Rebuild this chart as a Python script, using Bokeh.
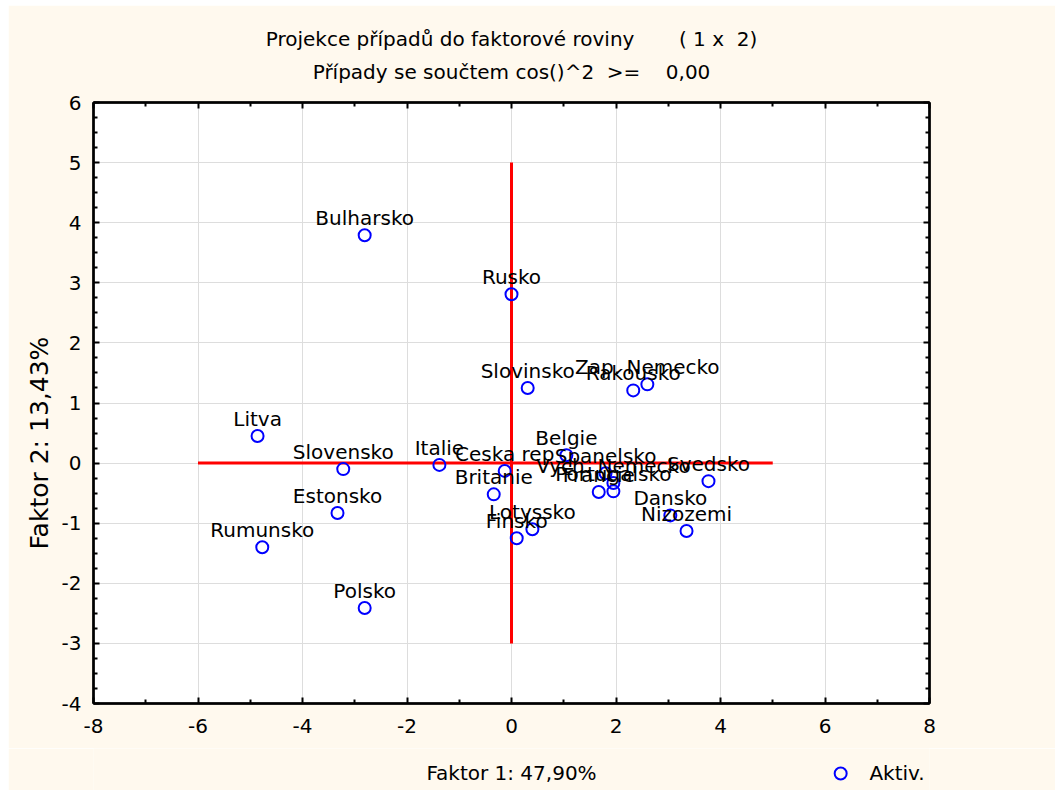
from bokeh.plotting import figure
from bokeh.layouts import column
from bokeh.models import Range1d, FixedTicker, LinearAxis, Title, ColumnDataSource
from bokeh.core.properties import value
from bokeh.embed import file_html
from bokeh.resources import INLINE

# ---- data ----
countries = ["Bulharsko", "Rusko", "Slovinsko", "Rakousko", "Zap. Nemecko", "Litva",
             "Slovensko", "Italie", "Ceska rep", "Belgie", "Britanie", "Spanelsko",
             "Vych. Nemecko", "Portugalsko", "Francie", "Svedsko", "Dansko", "Nizozemi",
             "Lotyssko", "Finsko", "Estonsko", "Rumunsko", "Polsko"]
factor1 = [-2.81, 0.00, 0.31, 2.33, 2.60, -4.86,
           -3.22, -1.38, -0.13, 1.05, -0.34, 1.80,
           1.95, 1.95, 1.67, 3.77, 3.04, 3.35,
           0.40, 0.10, -3.33, -4.77, -2.81]
factor2 = [3.79, 2.81, 1.25, 1.21, 1.31, 0.45,
           -0.10, -0.03, -0.13, 0.13, -0.52, -0.17,
           -0.33, -0.47, -0.48, -0.30, -0.87, -1.13,
           -1.10, -1.25, -0.83, -1.40, -2.41]

x_ticks = [-8, -6, -4, -2, 0, 2, 4, 6, 8]
x_tick_labels = ["-8", "-6", "-4", "-2", "0", "2", "4", "6", "8"]
x_minor = [-7, -5, -3, -1, 1, 3, 5, 7]
y_ticks = [-4, -3, -2, -1, 0, 1, 2, 3, 4, 5, 6]
y_tick_labels = ["-4", "-3", "-2", "-1", "0", "1", "2", "3", "4", "5", "6"]
y_minor = [v / 4 for v in range(-16, 25) if v % 4 != 0]

hline_x = [-6, 5]
hline_y = [0, 0]
vline_x = [0, 0]
vline_y = [-3, 5]

NB = "\u00a0"
title_1 = "Projekce případů do faktorové roviny " + NB * 6 + "( 1 x " + NB + "2)"
title_2 = "Případy se součtem cos()^2 " + NB + ">= " + NB * 3 + "0,00"
x_label = "Faktor 1: 47,90%"
y_label = "Faktor 2: 13,43%"
legend_label = "Aktiv."

FONT = "DejaVu Sans"
FS = "20px"
CREAM = "#FFF9EE"

p = figure(width=1047, height=743, x_range=Range1d(-8, 8), y_range=Range1d(-4, 6),
           output_backend="svg", toolbar_location=None, title=None,
           min_border_left=85, min_border_right=126, min_border_top=97, min_border_bottom=45,
           background_fill_color="white", border_fill_color=CREAM,
           outline_line_color="black", outline_line_width=2)
p.margin = (5, 0, 0, 8)

p.xgrid.ticker = x_ticks
p.ygrid.ticker = y_ticks
p.xgrid.grid_line_color = "#DDDDDD"
p.ygrid.grid_line_color = "#DDDDDD"


def style_axis(ax, ticks, minor, labels, show):
    ax.ticker = FixedTicker(ticks=ticks, minor_ticks=minor)
    ax.axis_line_width = 2.5
    ax.axis_line_color = "black"
    ax.major_tick_in = 6
    ax.major_tick_out = 0
    ax.minor_tick_in = 4
    ax.minor_tick_out = 0
    ax.major_tick_line_width = 2
    ax.minor_tick_line_width = 2
    ax.major_tick_line_color = "black"
    ax.minor_tick_line_color = "black"
    ax.major_label_text_font = FONT
    ax.major_label_text_color = "black"
    if show:
        ax.major_label_overrides = {t: l for t, l in zip(ticks, labels)}
        ax.major_label_text_font_size = FS
        ax.major_label_standoff = 12
    else:
        ax.major_label_overrides = {t: "" for t in ticks}
        ax.major_label_text_font_size = "0px"
        ax.major_label_standoff = 0


bottom = p.xaxis[0]
left = p.yaxis[0]
style_axis(bottom, x_ticks, x_minor, x_tick_labels, True)
style_axis(left, y_ticks, y_minor, y_tick_labels, True)
bottom.major_label_standoff = 15

top = LinearAxis()
style_axis(top, x_ticks, x_minor, x_tick_labels, False)
p.add_layout(top, "above")
right = LinearAxis()
style_axis(right, y_ticks, y_minor, y_tick_labels, False)
p.add_layout(right, "right")

p.add_layout(Title(text=title_2, align="center", text_font=FONT, text_font_size=FS,
                   text_font_style="normal", text_color="black", standoff=38), "above")
p.add_layout(Title(text=title_1, align="center", text_font=FONT, text_font_size=FS,
                   text_font_style="normal", text_color="black", standoff=-25), "above")

# y-axis title as a side-panel title, shifted toward the bottom like the reference
p.add_layout(Title(text=y_label, align="left", offset=154, text_font=FONT, text_font_size="25px",
                   text_font_style="normal", text_color="black", standoff=10), "left")

p.line(hline_x, hline_y, line_color="red", line_width=3)
p.line(vline_x, vline_y, line_color="red", line_width=3)

src = ColumnDataSource(dict(f1=factor1, f2=factor2, name=countries))
pts = p.scatter("f1", "f2", source=src, marker="circle", size=12, fill_color=None,
                line_color="blue", line_width=2)
p.text("f1", "f2", text="name", source=src, text_align="center", text_baseline="alphabetic",
       y_offset=-17, text_font=value(FONT), text_font_size=FS, text_color="black")

# ---- bottom strip: x-axis title and legend key on one row ----
# (its frame is aligned with the main plot's frame by the column layout, so it
#  shares the main x scale; the legend key sits at the right end of that row)
strip = figure(width=1047, height=42, x_range=Range1d(-8, 8), y_range=Range1d(0, 1),
               output_backend="svg", toolbar_location=None, title=None,
               x_axis_type=None, y_axis_type=None,
               min_border_left=0, min_border_right=0, min_border_top=0, min_border_bottom=0,
               background_fill_color=CREAM, border_fill_color=CREAM, outline_line_color=None)
strip.margin = (0, 0, 0, 8)
strip.text(x=[0], y=[0.405], text=[x_label], text_align="center", text_baseline="middle",
           text_font=value(FONT), text_font_size=FS, text_color="black")
strip.scatter(x=[6.30], y=[0.405], marker="circle", size=12, fill_color=None,
              line_color="blue", line_width=2)
strip.text(x=[6.85], y=[0.405], text=[legend_label], text_align="left", text_baseline="middle",
           text_font=value(FONT), text_font_size=FS, text_color="black")

layout = column(p, strip, spacing=0)
open("out.html", "w").write(file_html(layout, INLINE))
